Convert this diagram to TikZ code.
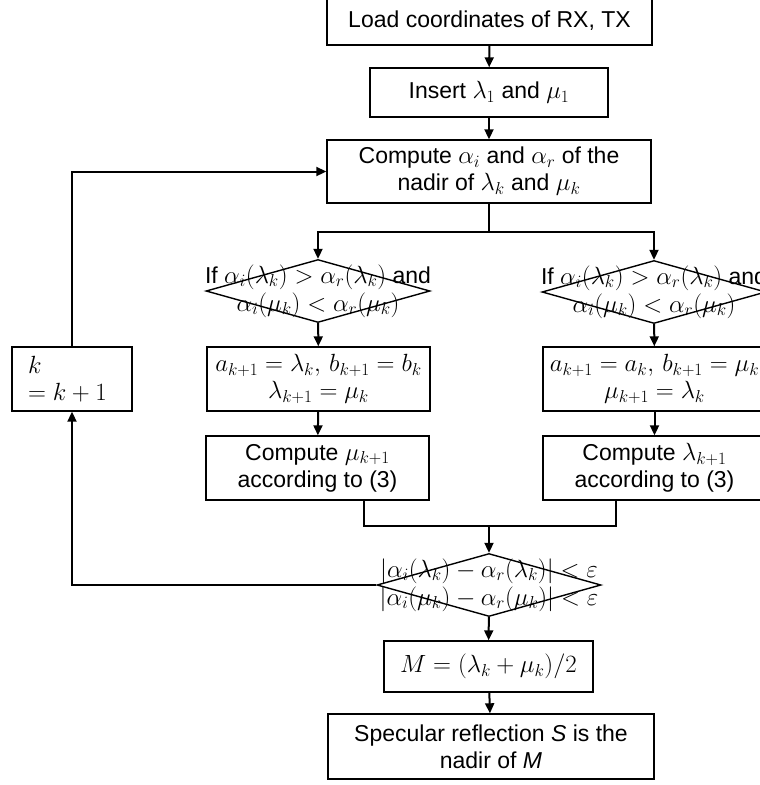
\documentclass[tikz,border=0pt]{standalone}
\usepackage[no-math]{fontspec}
\setmainfont{Liberation Sans}
\usetikzlibrary{shapes.geometric,arrows.meta,calc}
\tikzset{
	stepbox/.style={draw, line width=1.4pt, align=center, inner sep=0pt, font=\fontsize{23}{27}\selectfont},
	cond/.style={draw, diamond, line width=1.4pt, inner sep=0pt, minimum width=224pt, minimum height=63pt},
	condtext/.style={align=center, inner sep=0pt, font=\fontsize{23}{28}\selectfont},
	arr/.style={line width=2pt, -{Triangle[length=10pt,width=9pt]}},
	line/.style={line width=2pt}
}
\begin{document}
\begin{tikzpicture}[x=1pt, y=-1pt]
			%%%%% START %%%%%
			\useasboundingbox (0, 0) rectangle (760, 785);
			
			\node[stepbox, minimum width=325pt, minimum height=48pt] (load) at (489.5, 21) {Load coordinates of RX, TX};
			\node[stepbox, minimum width=238pt, minimum height=49pt] (insert) at (489, 92.5) {Insert $\lambda_1$ and $\mu_1$};
			\node[stepbox, minimum width=324pt, minimum height=63pt] (compute) at (489, 171.5) {Compute $\alpha_i$ and $\alpha_r$ of the\\nadir of $\lambda_k$ and $\mu_k$};
			
			\node[cond] (condL) at (318, 291) {};
			\node[condtext] (condLtxt) at (condL) {If $\alpha_i(\lambda_k)>\alpha_r(\lambda_k)$ and\\$\alpha_i(\mu_k)<\alpha_r(\mu_k)$};
			\node[cond] (condR) at (654, 292) {};
			\node[condtext] (condRtxt) at (condR) {If $\alpha_i(\lambda_k)>\alpha_r(\lambda_k)$ and\\$\alpha_i(\mu_k)<\alpha_r(\mu_k)$};
			
			\node[stepbox, minimum width=223pt, minimum height=64pt] (updL) at (318.5, 379) {$a_{k+1}=\lambda_k,\, b_{k+1}=b_k$\\$\lambda_{k+1}=\mu_k$};
			\node[stepbox, minimum width=223pt, minimum height=64pt] (updR) at (654.5, 379) {$a_{k+1}=a_k,\, b_{k+1}=\mu_k$\\$\mu_{k+1}=\lambda_k$};
			\node[stepbox, minimum width=223pt, minimum height=64pt] (muL) at (317.5, 468) {Compute $\mu_{k+1}$\\according to (3)};
			\node[stepbox, minimum width=223pt, minimum height=64pt] (lamR) at (654.5, 468) {Compute $\lambda_{k+1}$\\according to (3)};
			
			\node[stepbox, align=left, text width=88pt, inner xsep=16pt, minimum width=120pt, minimum height=64pt] (kbox) at (72, 379) {$k$\\$=k+1$};
			
			\node[cond] (stop) at (489, 585) {};
			\node[condtext] (stoptxt) at (stop) {$|\alpha_i(\lambda_k)-\alpha_r(\lambda_k)|<\varepsilon$\\$|\alpha_i(\mu_k)-\alpha_r(\mu_k)|<\varepsilon$};
			
			\node[stepbox, minimum width=209pt, minimum height=51pt] (mid) at (488.5, 666.5) {$M=(\lambda_k+\mu_k)/2$};
			\node[stepbox, minimum width=326pt, minimum height=65pt] (spec) at (491, 746.5) {Specular reflection \textit{S} is the\\nadir of \textit{M}};
			
			\coordinate (split) at (489, 232);
			\coordinate (joinL) at (364, 526);
			\coordinate (joinR) at (616, 526);
			\coordinate (join) at (489, 526);
			
			\draw[arr] (load) -- (insert);
			\draw[arr] (insert) -- (compute);
			\draw[line] (compute.south) -- (split);
			\draw[arr] (split) -| (condL.north);
			\draw[arr] (split) -| (condR.north);
			\draw[arr] (condL) -- (updL);
			\draw[arr] (condR) -- (updR);
			\draw[arr] (updL) -- (muL);
			\draw[arr] (updR) -- (lamR);
			\draw[line] (muL.south -| joinL) -- (joinL) -- (joinR) -- (lamR.south -| joinR);
			\draw[arr] (join) -- (stop.north);
			\draw[arr] (stop.west) -| (kbox.south);
			\draw[arr] (kbox.north) |- (compute.west);
			\draw[arr] (stop) -- (mid);
			\draw[arr] (mid) -- (spec);
			%%%%% END %%%%%
\end{tikzpicture}
\end{document}
